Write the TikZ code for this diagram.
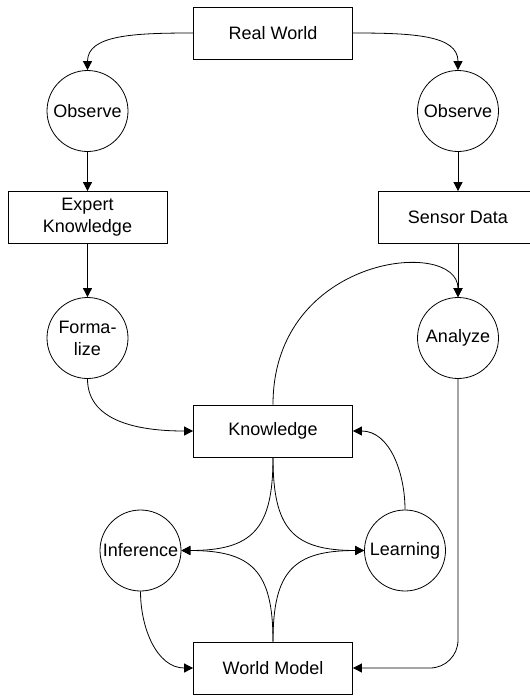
\documentclass[tikz,border=0pt]{standalone}
\usepackage{fontspec}
\setmainfont{Liberation Sans}
\usetikzlibrary{arrows.meta}

\begin{document}
\begin{tikzpicture}[x=1pt,y=1pt,
  every node/.style={font=\fontsize{18}{22}\selectfont},
  box/.style={draw,line width=0.8pt,minimum width=159pt,minimum height=52pt,inner sep=0pt,align=center},
  proc/.style={draw,circle,line width=0.8pt,minimum size=81pt,inner sep=0pt,align=center},
  arr/.style={line width=0.8pt,-{Triangle[length=9pt,width=9pt]}}]
  \useasboundingbox (0,0) rectangle (530,-696);
  % boxes
  \node[box] (rw) at (273,-33) {Real World};
  \node[box] (ek) at (87.5,-217.5) {Expert\\Knowledge};
  \node[box] (sd) at (458,-217.5) {Sensor Data};
  \node[box] (kn) at (273,-431) {Knowledge};
  \node[box] (wm) at (273,-668) {World Model};
  % circles
  \foreach \nm/\x in {obsl/87.5,obsr/458}
    \node[proc] (\nm) at (\x,-111) {Observe};
  \node[proc] (fz) at (87.5,-338) {Forma-\\lize};
  \node[proc] (an) at (458,-338) {Analyze};
  \node[proc] (inf) at (140.5,-550.5) {Inference};
  \node[proc] (ln) at (405,-550.5) {Learning};
  % connectors
  \draw[arr] (rw.west) .. controls +(-60,0) and +(0,35) .. (obsl.north);
  \draw[arr] (rw.east) .. controls +(60,0) and +(0,35) .. (obsr.north);
  \draw[arr] (obsl.south) -- (ek.north);
  \draw[arr] (obsr.south) -- (sd.north);
  \draw[arr] (ek.south) -- (fz.north);
  \draw[arr] (sd.south) -- (an.north);
  \draw[arr] (kn.north) .. controls +(0,150) and +(0,60) .. (an.north);
  \draw[arr] (fz.south) to[out=-90,in=180] (kn.west);
  \draw[arr] (ln.north) to[out=90,in=0] (kn.east);
  \draw[arr] (kn.south) to[out=-90,in=0,looseness=1.4] (inf.east);
  \draw[arr] (kn.south) to[out=-90,in=180,looseness=1.4] (ln.west);
  \draw[arr] (wm.north) to[out=90,in=0,looseness=1.4] (inf.east);
  \draw[arr] (wm.north) to[out=90,in=180,looseness=1.4] (ln.west);
  \draw[arr] (inf.south) to[out=-90,in=180] (wm.west);
  \draw[arr,rounded corners=28pt] (an.south) |- (wm.east);
\end{tikzpicture}
\end{document}
